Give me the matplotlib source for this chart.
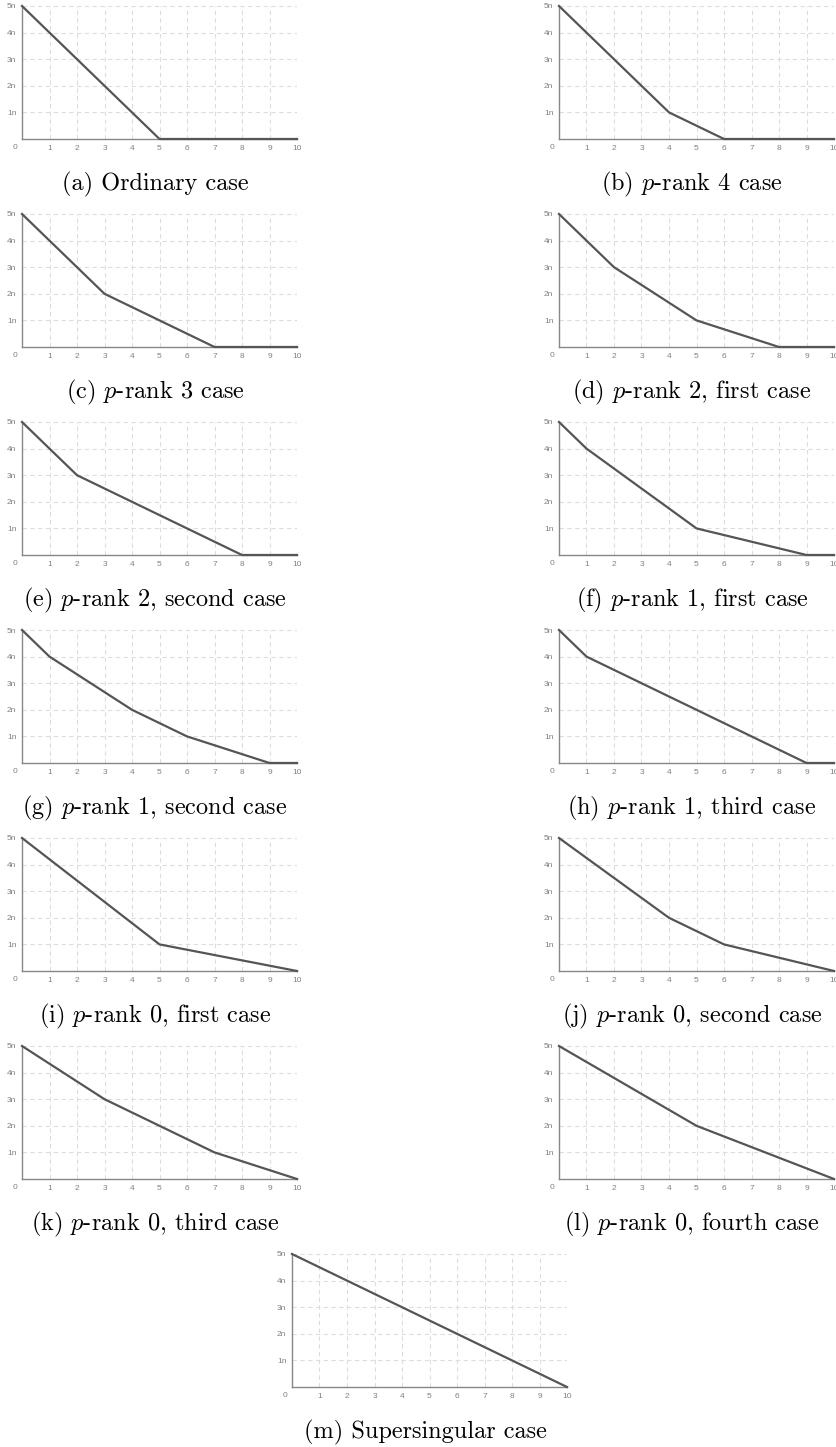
import matplotlib
matplotlib.use("Agg")
import matplotlib.pyplot as plt

plt.rcParams['mathtext.fontset'] = 'cm'

# Newton polygon break points, y in units of n
captions = [
    r"(a) Ordinary case",
    r"(b) $p$-rank 4 case",
    r"(c) $p$-rank 3 case",
    r"(d) $p$-rank 2, first case",
    r"(e) $p$-rank 2, second case",
    r"(f) $p$-rank 1, first case",
    r"(g) $p$-rank 1, second case",
    r"(h) $p$-rank 1, third case",
    r"(i) $p$-rank 0, first case",
    r"(j) $p$-rank 0, second case",
    r"(k) $p$-rank 0, third case",
    r"(l) $p$-rank 0, fourth case",
    r"(m) Supersingular case",
]
xs = [
    [0, 5, 10],
    [0, 4, 6, 10],
    [0, 3, 7, 10],
    [0, 2, 5, 8, 10],
    [0, 2, 8, 10],
    [0, 1, 5, 9, 10],
    [0, 1, 4, 6, 9, 10],
    [0, 1, 9, 10],
    [0, 5, 10],
    [0, 4, 6, 10],
    [0, 3, 7, 10],
    [0, 5, 10],
    [0, 10],
]
ys = [
    [5, 0, 0],
    [5, 1, 0, 0],
    [5, 2, 0, 0],
    [5, 3, 1, 0, 0],
    [5, 3, 0, 0],
    [5, 4, 1, 0, 0],
    [5, 4, 2, 1, 0, 0],
    [5, 4, 0, 0],
    [5, 1, 0],
    [5, 2, 1, 0],
    [5, 3, 1, 0],
    [5, 2, 0],
    [5, 0],
]
x_ticks = list(range(1, 11))
y_ticks = [1, 2, 3, 4, 5]
y_labels = ["1n", "2n", "3n", "4n", "5n"]

W, H = 837, 1447
fig = plt.figure(figsize=(W / 100, H / 100), dpi=100)

for i in range(13):
    row = i // 2
    if i == 12:
        left = 292
    elif i % 2 == 0:
        left = 22
    else:
        left = 559
    top = 6 + 208 * row
    ax = fig.add_axes([left / W, 1 - (top + 133) / H, 275 / W, 133 / H])
    ax.plot(xs[i], ys[i], color="#555555", lw=1.6, clip_on=False, zorder=3)
    ax.set_xlim(0, 10)
    ax.set_ylim(0, 5)
    ax.set_xticks(x_ticks)
    ax.set_yticks(y_ticks)
    ax.set_yticklabels(y_labels)
    ax.tick_params(length=0, labelsize=6, labelcolor="#808080", pad=4,
                   labelfontfamily="Liberation Sans")
    ax.grid(True, color="#dddddd", ls=(0, (4, 3)), lw=0.8)
    for s in ["top", "right"]:
        ax.spines[s].set_visible(False)
    for s in ["left", "bottom"]:
        ax.spines[s].set_color("#888888")
        ax.spines[s].set_linewidth(1.0)
    ax.annotate("0", (0, 0), xycoords="data", xytext=(-5, -6),
                textcoords="offset points", ha="center", va="center",
                fontsize=6, color="#808080", family="Liberation Sans")
    fig.text((left + 133) / W, 1 - (184 + 208 * row) / H, captions[i],
             ha="center", va="center", fontsize=17.5, family="cmr10")

fig.savefig("out.png", dpi=100, facecolor="white")
